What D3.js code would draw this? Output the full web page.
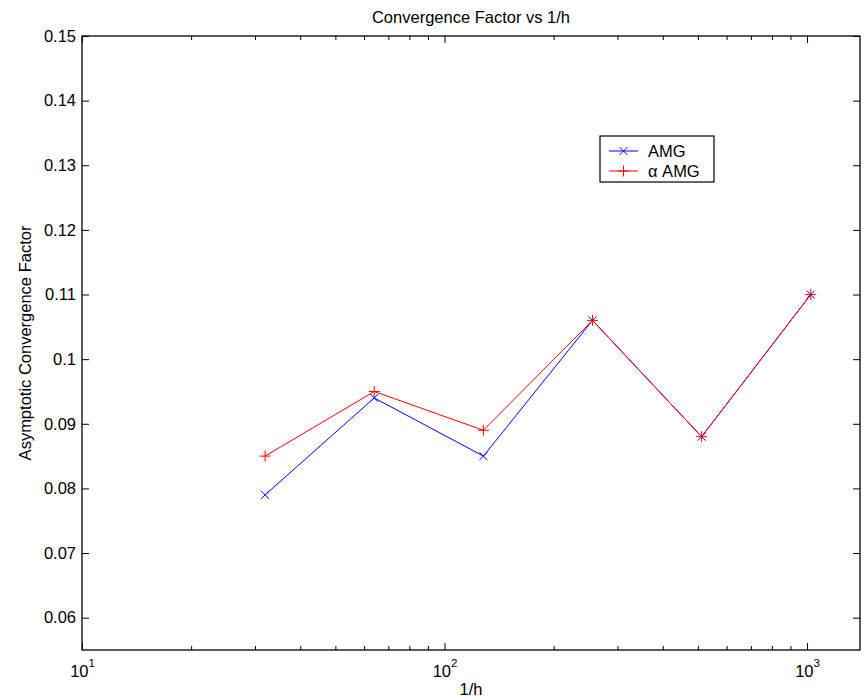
<!DOCTYPE html>
<html>
<head>
<meta charset="utf-8">
<script src="https://cdn.jsdelivr.net/npm/d3@7"></script>
<style>
  html, body { margin: 0; padding: 0; background: #fff; }
  svg { display: block; }
</style>
</head>
<body>
<div id="chart"></div>
<script>
// ── Data ─────────────────────────────────────────────────────
const invH     = [32, 64, 128, 256, 512, 1024];
const amg      = [0.079, 0.094, 0.085, 0.106, 0.088, 0.110];
const alphaAmg = [0.085, 0.095, 0.089, 0.106, 0.088, 0.110];

const xMajor = [10, 100, 1000];
const xMinor = [20, 30, 40, 50, 60, 70, 80, 90, 200, 300, 400, 500, 600, 700, 800, 900];
const yTicks = [0.06, 0.07, 0.08, 0.09, 0.10, 0.11, 0.12, 0.13, 0.14, 0.15];

const FONT = 'Liberation Sans, Arial, Helvetica, sans-serif';
const FS = 16.5;

const width = 865, height = 700;
const box = { left: 82, right: 860, top: 36, bottom: 650 };

const svg = d3.select('#chart').append('svg')
  .attr('width', width)
  .attr('height', height)
  .style('font-family', FONT);

svg.append('rect').attr('width', width).attr('height', height).attr('fill', '#fff');

const x = d3.scaleLog().domain([10, 1400]).range([box.left, box.right]);
const y = d3.scaleLinear().domain([0.055, 0.15]).range([box.bottom, box.top]);

// ── Axes ─────────────────────────────────────────────────────
function styleAxis(g) {
  g.select('.domain').remove();
  g.selectAll('line').attr('stroke', '#000').attr('stroke-width', 1);
  g.selectAll('text').attr('font-size', FS).attr('font-family', FONT).attr('fill', '#000');
}

// bottom major with labels 10^n
const xb = svg.append('g')
  .attr('transform', `translate(0,${box.bottom})`)
  .call(d3.axisBottom(x).tickValues(xMajor).tickSize(-7).tickSizeOuter(0).tickPadding(15).tickFormat(''))
  .call(styleAxis);
xb.selectAll('.tick text').each(function(d) {
  const t = d3.select(this);
  t.text('10');
  t.append('tspan')
    .attr('dy', '-10px')
    .attr('font-size', 11.5)
    .text(Math.round(Math.log10(d)));
});

svg.append('g')
  .attr('transform', `translate(0,${box.bottom})`)
  .call(d3.axisBottom(x).tickValues(xMinor).tickSize(-4).tickSizeOuter(0).tickFormat(''))
  .call(styleAxis);

// top mirror
svg.append('g')
  .attr('transform', `translate(0,${box.top})`)
  .call(d3.axisTop(x).tickValues(xMajor).tickSize(-7).tickSizeOuter(0).tickFormat(''))
  .call(styleAxis);
svg.append('g')
  .attr('transform', `translate(0,${box.top})`)
  .call(d3.axisTop(x).tickValues(xMinor).tickSize(-4).tickSizeOuter(0).tickFormat(''))
  .call(styleAxis);

// left with labels
svg.append('g')
  .attr('transform', `translate(${box.left},0)`)
  .call(d3.axisLeft(y).tickValues(yTicks).tickSize(-7).tickSizeOuter(0).tickPadding(6)
    .tickFormat(d => String(+d.toFixed(2))))
  .call(styleAxis);

// right mirror
svg.append('g')
  .attr('transform', `translate(${box.right},0)`)
  .call(d3.axisRight(y).tickValues(yTicks).tickSize(-7).tickSizeOuter(0).tickFormat(''))
  .call(styleAxis);

// frame
svg.append('rect')
  .attr('x', box.left).attr('y', box.top)
  .attr('width', box.right - box.left)
  .attr('height', box.bottom - box.top)
  .attr('fill', 'none')
  .attr('stroke', '#000')
  .attr('stroke-width', 1.3);

// ── Series ───────────────────────────────────────────────────
const line = d3.line().x(d => x(d[0])).y(d => y(d[1]));

function xMarker(g, cx, cy, r, color) {
  g.append('path')
    .attr('d', `M${cx - r},${cy - r}L${cx + r},${cy + r}M${cx - r},${cy + r}L${cx + r},${cy - r}`)
    .attr('stroke', color).attr('stroke-width', 1).attr('fill', 'none');
}
function plusMarker(g, cx, cy, r, color) {
  g.append('path')
    .attr('d', `M${cx - r},${cy}L${cx + r},${cy}M${cx},${cy - r}L${cx},${cy + r}`)
    .attr('stroke', color).attr('stroke-width', 1).attr('fill', 'none');
}

const series = [
  { name: 'AMG',   values: amg,      color: '#0000ff', marker: xMarker,    r: 4 },
  { name: 'α AMG', values: alphaAmg, color: '#ff0000', marker: plusMarker, r: 5.5 },
];

const plotG = svg.append('g');
series.forEach(s => {
  const pts = invH.map((h, i) => [h, s.values[i]]);
  plotG.append('path')
    .datum(pts)
    .attr('d', line)
    .attr('fill', 'none')
    .attr('stroke', s.color)
    .attr('stroke-width', 1);
  pts.forEach(p => s.marker(plotG, x(p[0]), y(p[1]), s.r, s.color));
});

// ── Legend ───────────────────────────────────────────────────
const lg = svg.append('g');
lg.append('rect')
  .attr('x', 600).attr('y', 136)
  .attr('width', 114).attr('height', 46)
  .attr('fill', '#fff').attr('stroke', '#000').attr('stroke-width', 1.2);
series.forEach((s, i) => {
  const ly = 151 + i * 20;
  lg.append('line')
    .attr('x1', 609).attr('x2', 638).attr('y1', ly).attr('y2', ly)
    .attr('stroke', s.color).attr('stroke-width', 1);
  s.marker(lg, 623.5, ly, s.r, s.color);
  lg.append('text')
    .attr('x', 648).attr('y', ly).attr('dy', '0.36em')
    .attr('font-size', FS).attr('fill', '#000')
    .text(s.name);
});

// ── Titles ───────────────────────────────────────────────────
svg.append('text')
  .attr('x', (box.left + box.right) / 2).attr('y', 23)
  .attr('text-anchor', 'middle').attr('font-size', FS).attr('fill', '#000')
  .text('Convergence Factor vs 1/h');

svg.append('text')
  .attr('x', (box.left + box.right) / 2).attr('y', 695)
  .attr('text-anchor', 'middle').attr('font-size', FS).attr('fill', '#000')
  .text('1/h');

svg.append('text')
  .attr('transform', `translate(31,${(box.top + box.bottom) / 2}) rotate(-90)`)
  .attr('text-anchor', 'middle').attr('font-size', FS).attr('fill', '#000')
  .text('Asymptotic Convergence Factor');
</script>
</body>
</html>
